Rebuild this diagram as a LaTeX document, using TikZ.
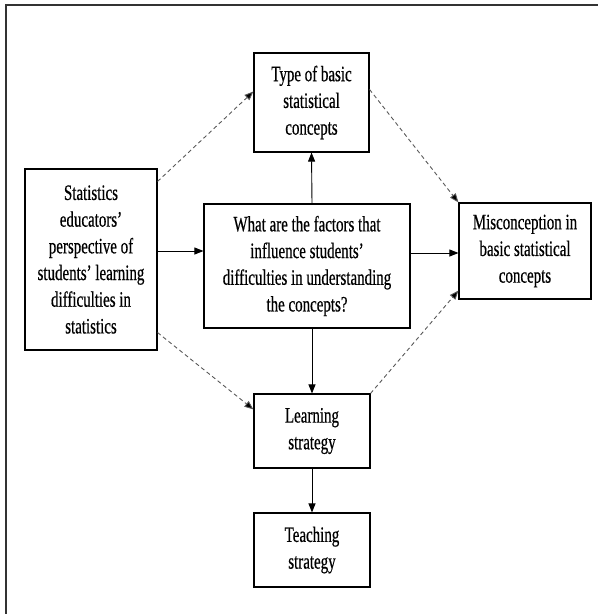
\documentclass[tikz,border=0pt]{standalone}
\usepackage{fontspec}
\setmainfont[FakeStretch=0.68,FakeBold=0.5]{Liberation Serif}
\usetikzlibrary{arrows.meta}

\begin{document}
\begin{tikzpicture}[x=1pt,y=-1pt]

      \useasboundingbox (0,0) rectangle (598,614);
      \draw[line width=1.4pt,black!80] (6,614) -- (6,5) -- (598,5);

      \begin{scope}[every node/.style={draw,line width=1.1pt,align=center,inner sep=0pt,
          font=\fontsize{22}{26.7}\selectfont}]
        \node[minimum width=115pt,minimum height=99pt]  (type)  at (311.5,102.5) {Type of basic\\statistical\\concepts};
        \node[minimum width=132pt,minimum height=181pt] (left)  at (91,259.5)    {Statistics\\educators'\\perspective of\\students' learning\\difficulties in\\statistics};
        \node[minimum width=206pt,minimum height=124pt] (mid)   at (307,266)     {What are the factors that\\influence students'\\difficulties in understanding\\the concepts?};
        \node[minimum width=132pt,minimum height=96pt]  (right) at (525,251)     {Misconception in\\basic statistical\\concepts};
        \node[minimum width=116pt,minimum height=74pt]  (learn) at (312,431)     {Learning\\strategy};
        \node[minimum width=116pt,minimum height=74pt]  (teach) at (312,550)     {Teaching\\strategy};
      \end{scope}

      \begin{scope}[every edge/.style={draw,line width=0.9pt,-{Triangle[length=9pt,width=7pt]}}]
        \path ([yshift=8.5pt]left.east) edge ([yshift=15pt]mid.west);
        \path ([yshift=13pt]mid.east)   edge ([yshift=-2pt]right.west);
        \path ([xshift=5pt]mid.north)   edge (type.south);
        \path ([xshift=5pt]mid.south)   edge (learn.north);
        \path (learn)                   edge (teach);
      \end{scope}

      \begin{scope}[every edge/.style={draw,line width=0.9pt,gray!70!black,dash pattern=on 4pt off 3pt,
          -{Triangle[length=9pt,width=7pt,fill=black]}}]
        \path ([yshift=-13pt]left.north east) edge ([yshift=-39pt]type.north west);
        \path ([yshift=-37pt]type.north east) edge (right.north west);
        \path ([yshift=18pt]left.south east)  edge ([yshift=-16pt]learn.north west);
        \path (learn.north east)              edge ([yshift=9pt]right.south west);
      \end{scope}

    \end{tikzpicture}
\end{document}
